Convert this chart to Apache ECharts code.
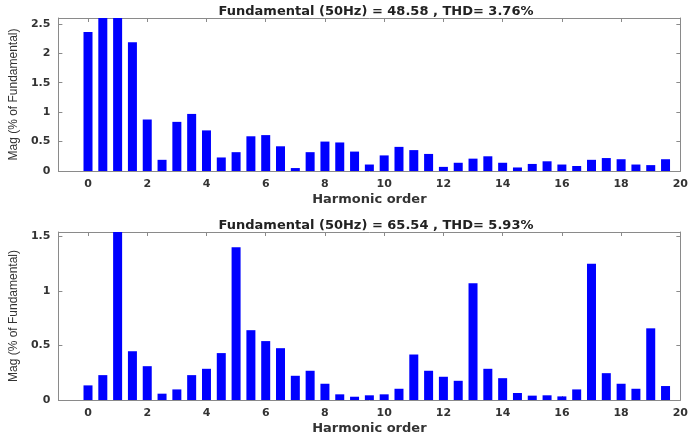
<!DOCTYPE html>
<html>
<head>
<meta charset="utf-8">
<script src="https://cdn.jsdelivr.net/npm/echarts@6/dist/echarts.min.js"></script>
<style>html,body{margin:0;padding:0;background:#fff}#c{width:691px;height:438px}</style>
</head>
<body>
<div id="c"></div>
<script>
const harmonicOrder = [0,0.5,1,1.5,2,2.5,3,3.5,4,4.5,5,5.5,6,6.5,7,7.5,8,8.5,9,9.5,10,10.5,11,11.5,12,12.5,13,13.5,14,14.5,15,15.5,16,16.5,17,17.5,18,18.5,19,19.5];
const magTop = [2.36,3.0,2.9,2.19,0.875,0.19,0.835,0.97,0.69,0.23,0.32,0.59,0.61,0.42,0.05,0.32,0.50,0.485,0.33,0.11,0.265,0.41,0.355,0.29,0.07,0.14,0.21,0.25,0.14,0.06,0.12,0.165,0.11,0.085,0.19,0.22,0.20,0.11,0.10,0.20];
const magBottom = [0.134,0.228,1.8,0.447,0.31,0.058,0.097,0.228,0.286,0.43,1.40,0.64,0.54,0.475,0.222,0.268,0.149,0.052,0.03,0.043,0.052,0.103,0.417,0.268,0.213,0.176,1.071,0.286,0.2,0.064,0.04,0.043,0.033,0.097,1.25,0.246,0.149,0.103,0.657,0.128];
const xTicks = [0,2,4,6,8,10,12,14,16,18,20];
const yTicksTop = [0,0.5,1,1.5,2,2.5];
const yTicksBottom = [0,0.5,1,1.5];
const titleTop = 'Fundamental (50Hz) = 48.58 , THD= 3.76%';
const titleBottom = 'Fundamental (50Hz) = 65.54 , THD= 5.93%';
const xName = 'Harmonic order';
const yName = 'Mag (% of Fundamental)';

const axisColor = '#8a8a8a';
const textColor = '#333';
const font = '"DejaVu Sans", Arial, sans-serif';

function xAxes(gi) {
  return [{
    gridIndex: gi, type: 'value', min: -1, max: 20, position: 'bottom',
    name: xName, nameLocation: 'middle', nameGap: 22,
    nameTextStyle: {color: textColor, fontSize: 13, fontFamily: font, fontWeight: 'bold'},
    axisLine: {show: true, onZero: false, lineStyle: {color: axisColor}},
    axisTick: {show: true, inside: true, length: 4, customValues: xTicks, lineStyle: {color: axisColor}},
    axisLabel: {customValues: xTicks, color: textColor, fontSize: 11, fontFamily: font, fontWeight: 'bold', margin: 8},
    splitLine: {show: false}
  }, {
    gridIndex: gi, type: 'value', min: -1, max: 20, position: 'top',
    axisLine: {show: true, onZero: false, lineStyle: {color: axisColor}},
    axisTick: {show: true, inside: true, length: 4, customValues: xTicks, lineStyle: {color: axisColor}},
    axisLabel: {show: false},
    splitLine: {show: false}
  }];
}
function yAxes(gi, max, ticks) {
  return [{
    gridIndex: gi, type: 'value', min: 0, max: max, position: 'left',
    name: yName, nameLocation: 'middle', nameGap: 36,
    nameTextStyle: {color: textColor, fontSize: 12, fontFamily: '"Liberation Sans Narrow", "Liberation Sans", Arial, sans-serif'},
    axisLine: {show: true, onZero: false, lineStyle: {color: axisColor}},
    axisTick: {show: true, inside: true, length: 4, customValues: ticks, lineStyle: {color: axisColor}},
    axisLabel: {customValues: ticks, color: textColor, fontSize: 11, fontFamily: font, fontWeight: 'bold', margin: 8},
    splitLine: {show: false}
  }, {
    gridIndex: gi, type: 'value', min: 0, max: max, position: 'right',
    axisLine: {show: true, onZero: false, lineStyle: {color: axisColor}},
    axisTick: {show: true, inside: true, length: 4, customValues: ticks, lineStyle: {color: axisColor}},
    axisLabel: {show: false},
    splitLine: {show: false}
  }];
}

const chart = echarts.init(document.getElementById('c'), null, {renderer: 'canvas'});
chart.setOption({
  animation: false,
  backgroundColor: '#fff',
  title: [
    {text: titleTop, left: 371, top: 0, textAlign: 'center',
     textStyle: {fontSize: 13, fontWeight: 'bold', color: '#222', fontFamily: font}},
    {text: titleBottom, left: 371, top: 214, textAlign: 'center',
     textStyle: {fontSize: 13, fontWeight: 'bold', color: '#222', fontFamily: font}}
  ],
  grid: [
    {left: 58, right: 6, top: 18, height: 153},
    {left: 58, right: 6, top: 232, height: 168}
  ],
  xAxis: [...xAxes(0), ...xAxes(1)],
  yAxis: [...yAxes(0, 2.6, yTicksTop), ...yAxes(1, 1.54, yTicksBottom)],
  series: [
    {type: 'bar', xAxisIndex: 0, yAxisIndex: 0, barWidth: 9, clip: true,
     itemStyle: {color: '#0000ff'},
     data: harmonicOrder.map((h, i) => [h, magTop[i]])},
    {type: 'bar', xAxisIndex: 2, yAxisIndex: 2, barWidth: 9, clip: true,
     itemStyle: {color: '#0000ff'},
     data: harmonicOrder.map((h, i) => [h, magBottom[i]])}
  ]
});
</script>
</body>
</html>
